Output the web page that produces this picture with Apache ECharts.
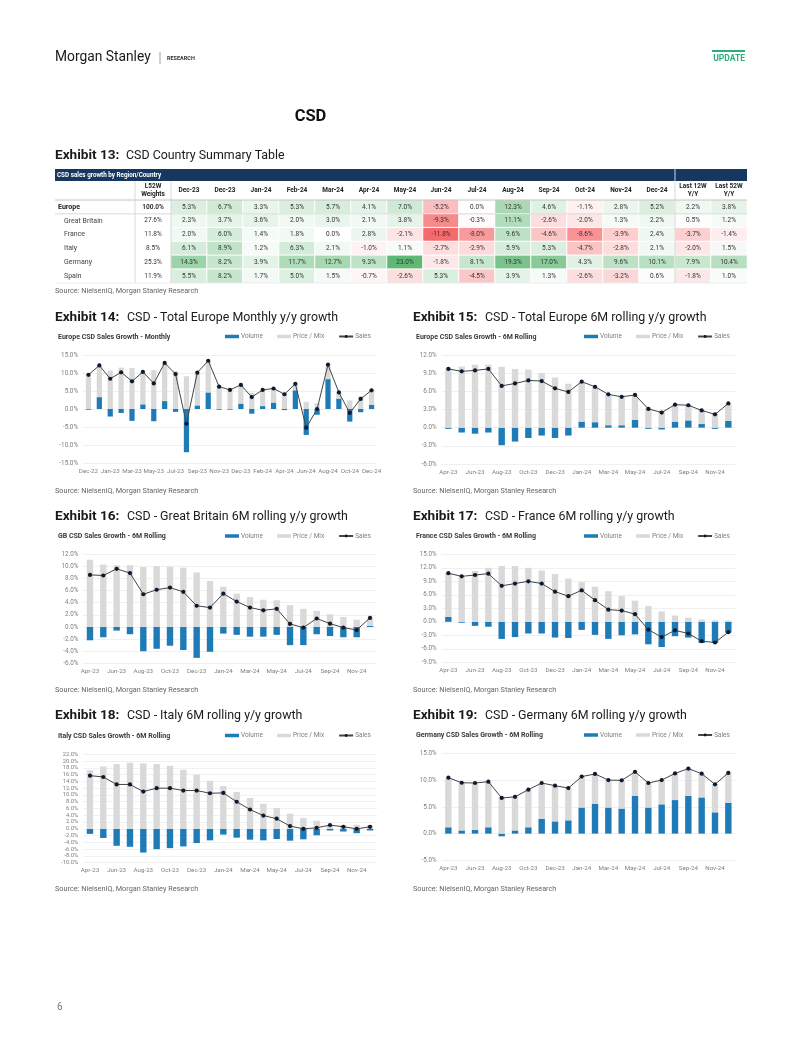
<!DOCTYPE html>
<html><head><meta charset="utf-8">
<script src="https://cdn.jsdelivr.net/npm/echarts@6/dist/echarts.min.js"></script>
<style>html,body{margin:0;padding:0;background:#fff}#c{width:802px;height:1037px}</style>
</head><body><div id="c"></div>
<script>
// ---------- DATA ----------
const tblCols = ['L52W\nWeights','Dec-23','Dec-23','Jan-24','Feb-24','Mar-24','Apr-24','May-24','Jun-24','Jul-24','Aug-24','Sep-24','Oct-24','Nov-24','Dec-24','Last 12W\nY/Y','Last 52W\nY/Y'];
const tblRows = ['Europe','Great Britain','France','Italy','Germany','Spain'];
const weights = [100.0,27.6,11.8,8.5,25.3,11.9];
const europeRow = [5.3,6.7,3.3,5.3,5.7,4.1,7.0,-5.2,0.0,12.3,4.6,-1.1,2.8,5.2,2.2,3.8];
const gbRow = [2.3,3.7,3.6,2.0,3.0,2.1,3.8,-9.3,-0.3,11.1,-2.6,-2.0,1.3,2.2,0.5,1.2];
const frRow = [2.0,6.0,1.4,1.8,0.0,2.8,-2.1,-11.8,-8.0,9.6,-4.6,-8.6,-3.9,2.4,-3.7,-1.4];
const itRow = [6.1,8.9,1.2,6.3,2.1,-1.0,1.1,-2.7,-2.9,5.9,5.3,-4.7,-2.8,2.1,-2.0,1.5];
const deRow = [14.3,8.2,3.9,11.7,12.7,9.3,23.0,-1.8,8.1,19.3,17.0,4.3,9.6,10.1,7.9,10.4];
const esRow = [5.5,8.2,1.7,5.0,1.5,-0.7,-2.6,5.3,-4.5,3.9,1.3,-2.6,-3.2,0.6,-1.8,1.0];

const monthlyCats = ['Dec-22','Dec-22','Jan-23','Feb-23','Mar-23','Apr-23','May-23','Jun-23','Jul-23','Aug-23','Sep-23','Oct-23','Nov-23','Dec-23','Dec-23','Jan-24','Feb-24','Mar-24','Apr-24','May-24','Jun-24','Jul-24','Aug-24','Sep-24','Oct-24','Nov-24','Dec-24'];
const rollCats = ['Apr-23','May-23','Jun-23','Jul-23','Aug-23','Sep-23','Oct-23','Nov-23','Dec-23','Dec-23','Jan-24','Feb-24','Mar-24','Apr-24','May-24','Jun-24','Jul-24','Aug-24','Sep-24','Oct-24','Nov-24','Dec-24'];

const euMVol = [-0.2,3.3,-2.1,-1.1,-3.3,1.3,-3.4,2.2,-0.8,-12.0,1.0,4.6,-0.2,-0.2,1.5,-1.3,0.8,1.8,-0.3,5.2,-7.2,-1.6,8.3,2.9,-3.5,-0.9,1.2];
const euMPm = [9.7,8.8,10.7,11.5,11.4,9.0,10.8,10.4,10.5,9.1,9.1,8.7,6.4,5.5,5.2,4.5,4.5,3.9,4.4,1.8,2.0,1.6,4.0,1.7,2.4,3.5,4.0];
const euMSales = [9.5,12.1,8.4,10.2,7.7,10.3,7.1,12.8,9.7,-4.1,10.1,13.4,6.2,5.3,6.7,3.3,5.3,5.7,4.1,7.0,-5.2,0.0,12.3,4.6,-1.1,2.8,5.2];

const euRVol = [-0.2,-0.8,-1.0,-0.8,-2.9,-2.3,-1.7,-1.3,-1.7,-1.3,1.0,0.9,0.4,0.4,1.3,-0.2,-0.3,1.0,1.2,0.6,-0.2,1.1];
const euRPm = [9.8,10.1,10.4,10.4,10.05,9.7,9.6,9.0,8.3,7.25,6.6,5.85,5.1,4.7,4.1,3.3,2.8,2.8,2.5,2.25,2.4,2.9];
const euRSales = [9.7,9.3,9.45,9.7,6.9,7.3,7.8,7.7,6.5,5.9,7.6,6.75,5.5,5.1,5.4,3.1,2.5,3.8,3.7,2.85,2.2,4.0];

const gbVol = [-2.2,-1.7,-0.6,-1.2,-4.0,-3.6,-3.1,-3.8,-5.1,-4.1,-1.1,-1.3,-1.6,-1.6,-1.3,-3.0,-3.0,-1.2,-1.5,-1.7,-1.7,0.2];
const gbPm = [11.1,10.3,10.2,10.2,9.9,10.05,9.95,9.8,9.0,7.6,6.65,5.5,4.95,4.5,4.4,3.6,3.0,2.65,2.1,1.65,1.2,1.3];
const gbSales = [8.6,8.5,9.6,8.9,5.4,6.15,6.5,5.8,3.5,3.2,5.5,4.2,3.2,2.75,3.0,0.5,-0.1,1.4,0.55,-0.1,-0.5,1.5];

const frVol = [1.1,-0.2,-0.9,-1.1,-3.8,-3.4,-2.6,-2.6,-3.5,-3.6,-1.8,-2.9,-3.8,-3.0,-2.8,-5.0,-5.6,-3.2,-3.5,-4.7,-4.7,-2.4];
const frPm = [9.7,9.9,11.3,12.0,12.4,12.4,12.0,11.4,10.6,9.6,8.8,7.8,6.8,5.7,4.7,3.5,2.3,1.4,0.9,0.5,0.35,0.3];
const frSales = [10.8,10.1,10.4,10.7,8.0,8.5,9.0,8.5,6.7,5.7,7.0,4.8,2.7,2.5,1.7,-1.75,-3.4,-1.9,-2.6,-4.3,-4.6,-2.3];

const itVol = [-1.5,-2.7,-5.0,-5.3,-7.0,-6.0,-5.7,-5.2,-4.2,-3.4,-1.7,-2.6,-3.2,-3.4,-3.0,-3.5,-3.1,-1.9,-0.5,-0.8,-1.3,-0.5];
const itPm = [17.3,18.4,19.1,19.5,19.3,19.1,18.6,17.4,16.0,14.2,12.6,10.9,9.1,7.4,6.15,4.5,3.2,2.4,1.2,1.1,1.2,1.1];
const itSales = [15.7,15.3,13.1,13.1,11.0,12.0,12.0,11.3,11.3,10.5,10.6,8.0,5.7,3.9,3.0,0.8,0.0,0.3,1.1,0.6,0.0,0.6];

const deVol = [1.2,0.6,0.7,1.2,-0.5,0.6,1.2,2.8,2.3,2.5,4.9,5.6,4.9,4.7,7.1,4.9,5.5,6.3,7.1,6.8,4.0,5.8];
const dePm = [9.2,8.9,8.8,8.5,6.9,6.3,7.1,6.7,6.7,6.1,5.8,5.6,5.15,5.3,4.5,4.6,4.55,5.0,5.1,4.45,5.25,5.6];
const deSales = [10.5,9.55,9.5,9.75,6.7,6.9,8.25,9.5,9.0,8.55,10.7,11.2,10.05,10.0,11.6,9.5,10.05,11.3,12.2,11.25,9.25,11.4];

// ---------- LAYOUT / STYLE ----------
const FONT = 'Roboto, "Noto Sans", sans-serif';
const BLUE = '#1f7bb6', GRAY = '#d9d9d9';

function mix(c1, c2, t) {
  const a = [parseInt(c1.slice(1,3),16),parseInt(c1.slice(3,5),16),parseInt(c1.slice(5,7),16)];
  const b = [parseInt(c2.slice(1,3),16),parseInt(c2.slice(3,5),16),parseInt(c2.slice(5,7),16)];
  return 'rgb(' + a.map((v,i)=>Math.round(v+(b[i]-v)*t)).join(',') + ')';
}
function cellColor(v) {
  if (v >= 0) return mix('#ffffff', '#5fb873', Math.min(v/23, 1));
  return mix('#ffffff', '#f56a6c', Math.min(-v/11.8, 1));
}

function txt(x, y, text, size, o) {
  o = o || {};
  const font = (o.weight || 'normal') + ' ' + size + 'px ' + (o.family || FONT);
  return {type:'text', x:x, y:y, silent:true, z:100,
    style:{text:text, font:font, fill:o.color || '#222',
      align:o.align || 'left', verticalAlign:'middle',
      textAlign:o.align || 'left', textVerticalAlign:'middle'}};
}
function line(x1, y1, x2, y2, color, w) {
  return {type:'line', silent:true, z:100, shape:{x1:x1,y1:y1,x2:x2,y2:y2}, style:{stroke:color, lineWidth:w||1}};
}

// ---------- TABLE ----------
const tableRows = [europeRow, gbRow, frRow, itRow, deRow, esRow];
const tableData = [];
tableRows.forEach((row, r) => {
  tableData.push({value:[0, r, weights[r]], itemStyle:{color:'#ffffff'},
    label:{fontWeight: r === 0 ? 'bold' : 'normal', color:'#333'}});
  row.forEach((v, c) => {
    tableData.push({value:[c+1, r, v], itemStyle:{color:cellColor(v)}});
  });
});
const TL = 135, TR = 747, TT = 200, TB = 283;
const colW = (TR - TL) / tblCols.length;

const grids = [{left:TL, top:TT, width:TR-TL, height:TB-TT}];
const xAxes = [{type:'category', gridIndex:0, data:tblCols, position:'top',
  axisLine:{show:false}, axisTick:{show:false}, splitLine:{show:false},
  axisLabel:{interval:0, hideOverlap:false, fontSize:6.5, fontWeight:'bold', color:'#222', lineHeight:8, margin:9.5, verticalAlign:'middle', fontFamily:FONT}}];
const yAxes = [{type:'category', gridIndex:0, data:tblRows, inverse:true,
  axisLine:{show:false}, axisTick:{show:false}, splitLine:{show:false},
  axisLabel:{interval:0, hideOverlap:false, margin:TL-58, align:'left', fontFamily:FONT,
    formatter: v => v === 'Europe' ? '{b|' + v + '}' : '{n|' + v + '}',
    rich:{b:{fontWeight:'bold', fontSize:7, color:'#222', fontFamily:FONT},
          n:{fontSize:7, color:'#444', padding:[0,0,0,6], fontFamily:FONT}}}}];
const series = [{type:'heatmap', xAxisIndex:0, yAxisIndex:0, data:tableData,
  itemStyle:{borderColor:'#ffffff', borderWidth:1},
  label:{show:true, fontSize:6.5, color:'#333', fontFamily:FONT,
    formatter: p => p.value[2].toFixed(1) + '%'},
  emphasis:{disabled:true}}];

// ---------- CHARTS ----------
const charts = [
  {cats:monthlyCats, vol:euMVol, pm:euMPm, sales:euMSales, min:-15, max:15, step:5,
   left:83, top:355, w:294, h:108, ex:'Exhibit 14:', title:'CSD - Total Europe Monthly y/y growth',
   sub:'Europe CSD Sales Growth - Monthly', x0:55, ty:318, subY:337, legX:225, srcY:491},
  {cats:rollCats, vol:euRVol, pm:euRPm, sales:euRSales, min:-6, max:12, step:3,
   left:441.7, top:355, w:293.3, h:109, ex:'Exhibit 15:', title:'CSD - Total Europe 6M rolling y/y growth',
   sub:'Europe CSD Sales Growth - 6M Rolling', x0:413, ty:318, subY:337, legX:584, srcY:491},
  {cats:rollCats, vol:gbVol, pm:gbPm, sales:gbSales, min:-6, max:12, step:2,
   left:83.3, top:554.3, w:293.4, h:109, ex:'Exhibit 16:', title:'CSD - Great Britain 6M rolling y/y growth',
   sub:'GB CSD Sales Growth - 6M Rolling', x0:55, ty:517, subY:536.5, legX:225, srcY:690},
  {cats:rollCats, vol:frVol, pm:frPm, sales:frSales, min:-9, max:15, step:3,
   left:441.7, top:554.3, w:293.3, h:108, ex:'Exhibit 17:', title:'CSD - France 6M rolling y/y growth',
   sub:'France CSD Sales Growth - 6M Rolling', x0:413, ty:517, subY:536.5, legX:584, srcY:690},
  {cats:rollCats, vol:itVol, pm:itPm, sales:itSales, min:-10, max:22, step:2,
   left:83.3, top:754.3, w:293.4, h:108.4, ex:'Exhibit 18:', title:'CSD - Italy 6M rolling y/y growth',
   sub:'Italy CSD Sales Growth - 6M Rolling', x0:55, ty:716, subY:736, legX:225, srcY:889},
  {cats:rollCats, vol:deVol, pm:dePm, sales:deSales, min:-5, max:15, step:5,
   left:441.7, top:753.7, w:293.3, h:106.6, ex:'Exhibit 19:', title:'CSD - Germany 6M rolling y/y growth',
   sub:'Germany CSD Sales Growth - 6M Rolling', x0:413, ty:716, subY:735.5, legX:584, srcY:889}
];

const legends = [];
const gfx = [];

charts.forEach((c, i) => {
  const gi = i + 1;
  grids.push({left:c.left, top:c.top, width:c.w, height:c.h});
  xAxes.push({type:'category', gridIndex:gi, data:c.cats,
    axisLine:{show:false}, axisTick:{show:false},
    axisLabel:{interval:1, fontSize:6.2, color:'#7f7f7f', margin:5, fontFamily:FONT}});
  yAxes.push({type:'value', gridIndex:gi, min:c.min, max:c.max, interval:c.step,
    axisLine:{show:false}, axisTick:{show:false},
    splitLine:{lineStyle:{color:'#ececec', width:0.8}},
    axisLabel:{fontSize:c.step === 2 && c.max > 15 ? 5.8 : 6.3, color:'#7f7f7f', margin:5, fontFamily:FONT,
      formatter: v => v.toFixed(1) + '%'}});
  series.push({name:'Volume', type:'bar', xAxisIndex:gi, yAxisIndex:gi, stack:'s'+gi,
    data:c.vol, barWidth:'48%', itemStyle:{color:BLUE}, emphasis:{disabled:true}});
  series.push({name:'Price / Mix', type:'bar', xAxisIndex:gi, yAxisIndex:gi, stack:'s'+gi,
    data:c.pm, barWidth:'48%', itemStyle:{color:GRAY}, emphasis:{disabled:true}});
  series.push({name:'Sales', type:'line', xAxisIndex:gi, yAxisIndex:gi, data:c.sales, z:5,
    symbol:'circle', symbolSize:4.2, lineStyle:{color:'#454545', width:1},
    itemStyle:{color:'#0c1a30'}, emphasis:{disabled:true}});
  legends.push({left:c.legX, top:c.subY - 4, padding:0, itemWidth:14, itemHeight:3.5, itemGap:14,
    textStyle:{fontSize:6.5, color:'#7f7f7f', fontFamily:FONT, padding:[0,0,0,-3]},
    data:[{name:'Volume', icon:'rect'}, {name:'Price / Mix', icon:'rect'}, {name:'Sales'}]});

  gfx.push(txt(c.x0, c.ty, c.ex, 13.6, {weight:'bold', color:'#1a1a1a'}));
  gfx.push(txt(c.x0 + 72, c.ty, c.title, 12.4, {color:'#1a1a1a'}));
  gfx.push(txt(c.x0 + 3, c.subY, c.sub, 7, {weight:'bold', color:'#3a3a3a'}));
  gfx.push(txt(c.x0, c.srcY, 'Source: NielsenIQ, Morgan Stanley Research', 7.3, {color:'#666'}));
});

// header & table decorations
gfx.push(txt(55, 58, 'Morgan Stanley', 13.8, {color:'#1a1a1a'}));
gfx.push(line(160, 52, 160, 64, '#888', 0.8));
gfx.push(txt(167, 58.5, 'RESEARCH', 5.5, {weight:'bold', color:'#333'}));
gfx.push({type:'rect', silent:true, z:100, shape:{x:712, y:50, width:33, height:2}, style:{fill:'#2fae7b'}});
gfx.push(txt(745, 59, 'UPDATE', 8.5, {weight:'bold', color:'#2fae7b', align:'right'}));
gfx.push(txt(310.5, 117, 'CSD', 16.5, {weight:'bold', color:'#111', align:'center'}));
gfx.push(txt(55, 156, 'Exhibit 13:', 13.6, {weight:'bold', color:'#1a1a1a'}));
gfx.push(txt(126, 156, 'CSD Country Summary Table', 12.4, {color:'#1a1a1a'}));
gfx.push({type:'rect', silent:true, z:99, shape:{x:55, y:169, width:TR-55, height:12}, style:{fill:'#17375e'}});
gfx.push(txt(57, 175.2, 'CSD sales growth by Region/Country', 6.3, {weight:'bold', color:'#ffffff'}));
gfx.push(line(TL + 15*colW, 169, TL + 15*colW, 181, '#ffffff', 0.8));
gfx.push(line(55, TT, TR, TT, '#b5b5b5', 0.8));
gfx.push(line(55, TT + (TB-TT)/6, TR, TT + (TB-TT)/6, '#cfcfcf', 0.8));
gfx.push(line(TL, 181, TL, TB, '#cfcfcf', 0.8));
gfx.push(line(TL + colW, 181, TL + colW, TB, '#cfcfcf', 0.8));
gfx.push(line(TL + 15*colW, 181, TL + 15*colW, TB, '#cfcfcf', 0.8));
gfx.push(line(55, TB, TR, TB, '#e3e3e3', 0.6));
gfx.push(txt(55, 291, 'Source: NielsenIQ, Morgan Stanley Research', 7.3, {color:'#666'}));
gfx.push(txt(57, 1007, '6', 10, {color:'#777'}));

const chart = echarts.init(document.getElementById('c'), null, {renderer:'canvas'});
chart.setOption({
  animation:false,
  backgroundColor:'#ffffff',
  textStyle:{fontFamily:FONT},
  grid:grids, xAxis:xAxes, yAxis:yAxes, series:series, legend:legends,
  graphic:{elements:gfx}
});
</script></body></html>
